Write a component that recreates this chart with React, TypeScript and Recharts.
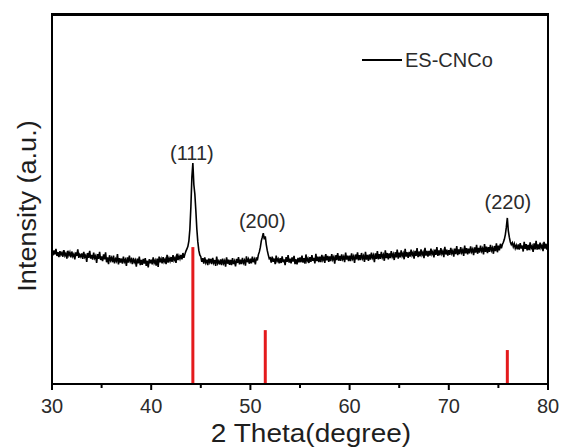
import React from "react";
import {
  ComposedChart,
  Line,
  XAxis,
  YAxis,
  ReferenceLine,
  ReferenceDot,
} from "recharts";

// 2θ from 30° to 80°, one reading every 0.1°
const START_ANGLE = 30;
const STEP = 0.1;

// measured intensity (a.u.), one row per degree
const intensity: number[] = [
  // 30
  358, 349, 362, 351, 366, 347, 357, 344, 360, 350,
  356, 345, 363, 348, 354, 340, 361, 349, 357, 343,
  359, 346, 352, 338, 357, 347, 365, 342, 351, 345,
  354, 339, 358, 344, 349, 331, 355, 342, 361, 340,
  350, 337, 356, 341, 347, 328, 352, 339, 358, 336,
  // 35
  346, 333, 351, 338, 357, 330, 343, 325, 349, 335,
  342, 330, 348, 327, 339, 333, 352, 324, 341, 329,
  340, 326, 345, 331, 337, 320, 343, 329, 348, 332,
  338, 325, 342, 330, 336, 318, 340, 327, 345, 322,
  336, 323, 339, 326, 341, 320, 334, 316, 338, 327,
  // 40
  337, 324, 343, 328, 335, 321, 340, 317, 345, 330,
  339, 327, 344, 331, 338, 325, 350, 329, 341, 333,
  344, 331, 349, 335, 342, 328, 353, 336, 347, 339,
  350, 338, 355, 342, 352, 360, 366, 373, 388, 420,
  480, 560, 599, 540, 515, 470, 420, 385, 362, 350,
  // 45
  345, 331, 341, 326, 343, 329, 337, 322, 340, 330,
  339, 325, 342, 328, 336, 320, 345, 327, 333, 324,
  338, 322, 340, 327, 334, 318, 343, 326, 337, 323,
  336, 322, 341, 325, 333, 319, 339, 328, 344, 324,
  337, 325, 342, 328, 335, 321, 346, 330, 338, 326,
  // 50
  340, 327, 345, 330, 338, 324, 343, 335, 350, 358,
  370, 388, 398, 409, 392, 400, 378, 362, 350, 340,
  342, 329, 345, 331, 340, 325, 348, 333, 339, 327,
  341, 328, 346, 330, 338, 322, 344, 331, 349, 329,
  340, 327, 343, 332, 347, 325, 338, 324, 342, 330,
  // 55
  343, 330, 348, 329, 341, 326, 351, 333, 340, 328,
  344, 331, 349, 334, 342, 327, 353, 333, 345, 330,
  345, 330, 350, 336, 343, 328, 352, 335, 347, 331,
  346, 333, 352, 337, 344, 326, 349, 336, 355, 334,
  347, 334, 351, 338, 345, 330, 356, 337, 348, 333,
  // 60
  348, 333, 354, 339, 346, 328, 351, 338, 357, 335,
  349, 336, 355, 340, 347, 331, 358, 337, 350, 334,
  351, 337, 356, 342, 349, 330, 354, 339, 360, 338,
  352, 339, 358, 343, 350, 334, 362, 341, 355, 338,
  354, 341, 360, 345, 352, 336, 357, 343, 364, 340,
  // 65
  356, 343, 362, 347, 354, 338, 366, 345, 357, 342,
  358, 345, 364, 349, 356, 340, 361, 347, 368, 344,
  359, 346, 365, 350, 357, 341, 369, 348, 361, 345,
  361, 348, 367, 352, 359, 343, 364, 350, 371, 347,
  362, 349, 368, 353, 360, 344, 372, 351, 364, 348,
  // 70
  363, 350, 369, 354, 361, 345, 367, 352, 374, 349,
  365, 352, 371, 356, 363, 347, 375, 354, 368, 351,
  367, 354, 373, 358, 365, 349, 370, 356, 377, 353,
  369, 356, 375, 360, 367, 351, 379, 358, 372, 355,
  371, 358, 377, 362, 369, 353, 374, 360, 381, 357,
  // 75
  375, 362, 380, 368, 378, 384, 392, 405, 425, 450,
  415, 398, 385, 378, 383, 372, 380, 368, 376, 365,
  378, 364, 382, 367, 375, 359, 385, 366, 379, 362,
  377, 363, 384, 368, 374, 358, 381, 365, 388, 364,
  378, 365, 383, 369, 376, 360, 385, 367, 380, 364,
  // 80
  372,
];

// standard reflections (red sticks)
const refAngles = [44.2, 51.5, 75.9];
const refHeights = [371, 146, 92];

// hkl labels above the peaks
const hklLabels = ["(111)", "(200)", "(220)"];
const hklAngles = [44.1, 51.2, 75.95];
const hklHeights = [626, 442, 493];

const xTicks = [30, 35, 40, 45, 50, 55, 60, 65, 70, 75, 80];

const data = intensity.map((v, i) => ({
  angle: Math.round((START_ANGLE + i * STEP) * 10) / 10,
  v,
}));

const FONT = "Arial, 'Liberation Sans', sans-serif";
const RED = "#e41a1c";
const TEXT = "#2b2b2b";

function AngleTick(props: any) {
  const { x, y, payload } = props;
  const major = payload.value % 10 === 0;
  return (
    <g>
      <line x1={x} x2={x} y1={y} y2={y + (major ? 6 : 4)} stroke="#000" strokeWidth={2} />
      {major && (
        <text x={x} y={y + 29} textAnchor="middle" fontSize={20} fill={TEXT} fontFamily={FONT}>
          {payload.value}
        </text>
      )}
    </g>
  );
}

export default function App() {
  return (
    <div style={{ position: "absolute", left: 0, top: 0, width: 564, height: 448, background: "#fff", fontFamily: FONT }}>
      <ComposedChart
        width={564}
        height={448}
        data={data}
        margin={{ top: 15, right: 6, bottom: 24, left: 42 }}
      >
        <XAxis
          dataKey="angle"
          type="number"
          domain={[30, 80]}
          ticks={xTicks}
          interval={0}
          height={40}
          tickSize={0}
          tickMargin={0}
          tickLine={false}
          axisLine={{ stroke: "#000", strokeWidth: 2 }}
          tick={<AngleTick />}
        />
        <YAxis
          type="number"
          domain={[0, 1000]}
          width={10}
          tick={false}
          tickLine={false}
          axisLine={{ stroke: "#000", strokeWidth: 2 }}
          allowDataOverflow
        />
        <YAxis
          yAxisId="right"
          orientation="right"
          type="number"
          domain={[0, 1000]}
          width={10}
          tick={false}
          tickLine={false}
          axisLine={{ stroke: "#000", strokeWidth: 2 }}
        />
        <Line
          type="linear"
          dataKey="v"
          stroke="#000"
          strokeWidth={1.6}
          dot={false}
          activeDot={false}
          isAnimationActive={false}
        />
        {refAngles.map((a, i) => (
          <ReferenceLine
            key={a}
            segment={[
              { x: a, y: 0 },
              { x: a, y: refHeights[i] },
            ]}
            stroke={RED}
            strokeWidth={3}
            ifOverflow="visible"
          />
        ))}
        {hklLabels.map((t, i) => (
          <ReferenceDot
            key={t}
            x={hklAngles[i]}
            y={hklHeights[i]}
            r={0}
            fill="none"
            stroke="none"
            label={{ value: t, position: "center", fontSize: 20, fill: TEXT, fontFamily: FONT }}
          />
        ))}
      </ComposedChart>

      {/* top edge of the frame */}
      <div style={{ position: "absolute", left: 51, top: 13, width: 498, height: 3, background: "#000", zIndex: 5 }} />

      {/* legend */}
      <div style={{ position: "absolute", left: 362, top: 48, display: "flex", alignItems: "center" }}>
        <span style={{ display: "inline-block", width: 40, height: 1.5, background: "#000", marginRight: 3 }} />
        <span style={{ fontSize: 20, color: TEXT, lineHeight: "24px" }}>ES-CNCo</span>
      </div>

      {/* axis titles */}
      <div
        style={{
          position: "absolute",
          left: 311,
          top: 433,
          transform: "translate(-50%, -50%) scaleX(1.12)",
          fontSize: 25,
          lineHeight: "28px",
          color: "#1e1e1e",
          whiteSpace: "nowrap",
        }}
      >
        2 Theta(degree)
      </div>
      <div
        style={{
          position: "absolute",
          left: 27,
          top: 206,
          transform: "translate(-50%, -50%) rotate(-90deg) scaleX(1.04)",
          fontSize: 26,
          color: "#1e1e1e",
          whiteSpace: "nowrap",
        }}
      >
        Intensity (a.u.)
      </div>
    </div>
  );
}
